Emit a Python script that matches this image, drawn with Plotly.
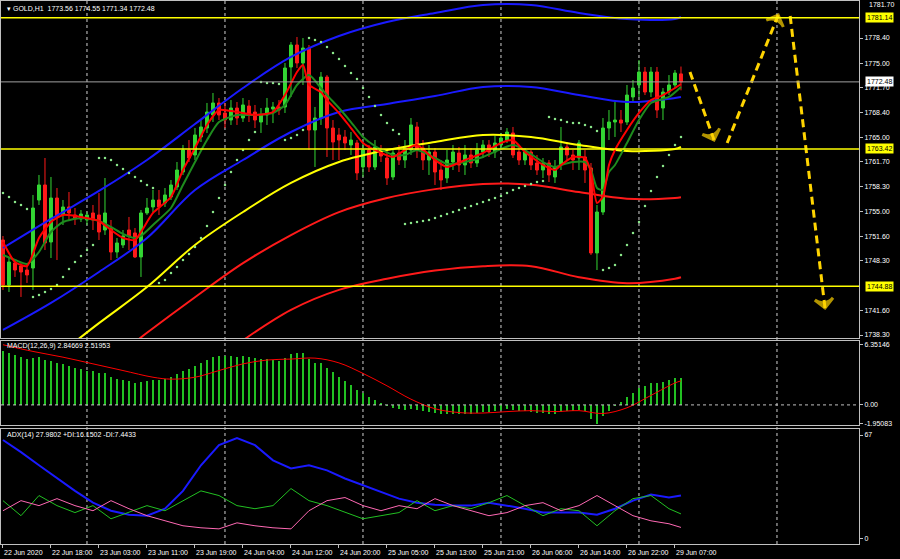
import plotly.graph_objects as go
from plotly.subplots import make_subplots

# ---------------- data ----------------
open_ = [1751.13,1745.06,1748.03,1747.62,1747.08,1747.35,1756.53,1758.56,1750.86,1756.80,
         1754.51,1755.59,1754.51,1753.97,1753.83,1754.78,1754.51,1752.48,1752.75,1749.51,
         1750.46,1752.48,1752.08,1748.84,1754.78,1755.59,1756.53,1756.13,1756.94,1758.29,
         1760.31,1763.28,1762.61,1765.04,1766.25,1768.01,1769.63,1768.28,1767.33,1768.95,
         1767.60,1769.22,1768.41,1767.06,1768.01,1768.82,1769.09,1769.09,1774.49,1777.46,
         1775.03,1777.05,1765.98,1767.60,1773.13,1766.25,1765.31,1765.04,1763.96,1764.23,
         1760.99,1763.28,1760.99,1763.28,1762.20,1759.64,1762.88,1761.93,1763.28,1766.39,
         1763.55,1761.93,1763.01,1760.58,1759.50,1761.66,1762.88,1761.26,1762.61,1761.53,
         1763.01,1763.96,1763.01,1763.96,1764.63,1765.58,1763.01,1761.93,1763.01,1761.53,
         1760.58,1761.53,1759.64,1761.26,1763.69,1762.61,1762.20,1762.34,1760.85,1749.38,
         1754.91,1766.25,1767.06,1767.33,1767.06,1770.44,1772.06,1773.81,1771.11,1773.81,
         1768.95,1771.11,1772.06,1773.56]
high = [1751.67,1748.70,1748.43,1748.16,1747.76,1757.21,1759.91,1762.20,1759.64,1758.15,
        1756.53,1757.61,1755.45,1755.18,1754.91,1755.86,1757.48,1759.50,1753.83,1751.40,
        1752.48,1754.24,1752.75,1755.18,1756.80,1757.88,1757.88,1758.15,1759.23,1761.66,
        1763.96,1764.63,1766.25,1767.33,1769.63,1770.98,1770.30,1769.63,1770.03,1769.76,
        1770.30,1770.03,1769.36,1768.95,1770.30,1769.76,1770.03,1775.03,1777.86,1778.54,
        1778.40,1777.46,1769.09,1773.81,1773.40,1767.33,1766.25,1765.98,1765.71,1764.63,
        1764.23,1763.96,1764.63,1763.96,1763.28,1763.55,1763.96,1764.63,1767.60,1767.06,
        1764.63,1763.96,1763.55,1761.93,1763.28,1763.96,1763.69,1763.96,1763.55,1764.23,
        1764.63,1764.63,1765.17,1765.58,1766.25,1766.39,1763.96,1763.55,1763.28,1762.61,
        1762.20,1761.93,1761.93,1766.39,1764.36,1763.28,1764.63,1763.28,1761.53,1755.86,
        1767.60,1768.68,1769.76,1768.68,1772.06,1772.73,1775.43,1774.49,1774.49,1774.49,
        1771.65,1773.40,1774.08,1774.55]
low = [1744.38,1744.11,1746.14,1743.44,1745.33,1744.38,1755.86,1749.78,1748.70,1748.43,
       1753.16,1753.83,1753.16,1753.56,1753.16,1752.48,1751.13,1751.81,1748.43,1748.70,
       1750.05,1749.78,1748.70,1746.14,1754.51,1754.91,1754.51,1755.59,1756.53,1757.88,
       1759.91,1761.66,1761.93,1764.36,1765.58,1767.06,1767.33,1766.25,1766.66,1766.66,
       1767.06,1767.06,1766.25,1765.58,1766.66,1766.92,1768.01,1768.28,1770.44,1774.35,
       1772.06,1763.28,1760.99,1766.66,1762.34,1761.93,1761.93,1763.28,1762.61,1759.23,
       1759.64,1760.31,1760.58,1761.66,1758.56,1759.23,1761.26,1760.85,1762.61,1762.20,
       1760.58,1759.91,1758.56,1757.88,1758.83,1760.58,1760.31,1759.91,1760.85,1760.99,
       1762.20,1762.34,1762.20,1763.28,1764.23,1762.20,1761.26,1761.26,1760.58,1759.91,
       1759.50,1758.96,1758.83,1760.58,1761.93,1760.58,1760.58,1758.83,1749.11,1747.08,
       1754.51,1764.63,1765.04,1765.71,1766.66,1769.63,1770.44,1770.70,1770.44,1767.60,
       1767.33,1770.70,1771.65,1771.34]
close_ = [1745.06,1748.16,1747.08,1746.81,1746.41,1755.45,1758.56,1750.73,1756.80,1754.24,
          1755.59,1754.78,1753.97,1754.64,1754.51,1753.83,1752.21,1754.78,1749.51,1750.73,
          1751.67,1751.67,1748.84,1754.78,1755.45,1756.53,1755.59,1757.21,1758.56,1760.58,
          1763.28,1762.20,1765.31,1766.39,1768.41,1769.63,1768.01,1767.33,1768.95,1767.60,
          1769.36,1768.01,1767.33,1768.01,1768.95,1769.09,1768.68,1774.35,1777.46,1775.03,
          1777.05,1765.98,1767.60,1773.13,1766.25,1764.36,1764.63,1764.23,1764.63,1760.18,
          1763.28,1760.99,1763.69,1762.47,1759.50,1762.88,1761.93,1763.55,1766.66,1763.28,
          1761.93,1763.01,1760.31,1759.23,1761.93,1763.01,1761.26,1762.61,1761.53,1763.28,
          1763.96,1763.01,1764.23,1764.90,1765.71,1762.61,1761.93,1763.01,1761.26,1760.58,
          1761.53,1759.91,1760.99,1763.69,1762.61,1761.93,1764.23,1760.58,1749.38,1754.91,
          1766.25,1767.06,1767.33,1766.92,1770.70,1771.65,1773.81,1771.11,1773.81,1768.68,
          1771.11,1772.06,1773.67,1772.48]

# fast moving averages (red / dark green), sampled bars
ma_fast_idx = [0,2,4,6,8,10,13,16,18,20,22,23,25,28,30,32,34,36,39,42,45,47,49,50,51,53,54,56,58,60,
               62,65,67,69,72,74,77,80,83,85,87,90,92,93,95,97,98,99,100,101,102,104,106,108,110,112,113]
ma_fast = [1750.86,1748.16,1747.62,1751.40,1753.56,1754.51,1754.24,1753.70,1752.48,1751.40,1751.13,
           1752.21,1754.78,1756.94,1760.58,1763.55,1766.66,1768.68,1768.41,1768.01,1768.41,1770.70,
           1773.81,1774.76,1772.06,1771.11,1770.03,1768.28,1766.25,1764.23,1763.28,1762.34,1763.28,
           1763.96,1761.93,1760.99,1761.93,1762.88,1764.23,1764.63,1763.01,1761.26,1760.58,1761.26,
           1762.34,1762.20,1760.31,1756.13,1757.00,1761.26,1763.28,1765.98,1768.28,1770.03,1770.70,
           1771.65,1772.19]
ma_slow_idx = [0,2,4,6,8,10,13,16,18,20,22,23,25,28,30,32,34,36,39,42,45,47,49,51,53,54,56,58,60,62,
               65,67,69,72,74,77,80,83,85,87,90,92,93,95,97,98,99,100,101,102,104,106,108,111,113]
ma_slow = [1749.11,1748.43,1747.89,1749.51,1752.21,1753.56,1754.10,1753.70,1752.89,1751.94,1751.40,
           1751.67,1753.16,1755.45,1758.56,1761.66,1764.63,1767.06,1768.01,1768.01,1768.28,1769.36,
           1772.06,1773.40,1771.65,1770.70,1768.95,1767.06,1765.04,1763.82,1762.61,1762.61,1763.28,
           1762.20,1761.39,1761.66,1762.34,1763.42,1763.96,1763.28,1761.66,1760.99,1761.26,1761.66,
           1761.66,1760.58,1758.15,1757.88,1760.31,1761.26,1764.23,1767.33,1769.63,1770.44,1771.79]

# envelope bands, sampled every 8 bars
band_idx = [0,8,16,24,32,40,48,56,64,72,80,88,96,104,112,113]
band_upper2 = [1750.05,1753.97,1757.75,1761.93,1766.79,1771.65,1775.84,1778.67,1780.56,1781.78,
               1782.86,1782.86,1781.78,1780.97,1780.97,1781.24]
band_upper1 = [1738.98,1742.63,1746.81,1751.40,1757.88,1761.93,1765.71,1768.41,1769.49,1770.57,
               1771.79,1771.79,1770.70,1769.76,1770.30,1770.44]
band_mid = [1730.2,1734.9,1739.9,1744.78,1750.46,1754.91,1758.83,1761.66,1763.28,1764.36,
            1765.31,1765.04,1763.96,1763.15,1763.42,1763.69]
band_lower1 = [1726.8,1729.5,1733.6,1738.6,1743.4,1748.0,1751.8,1754.9,1756.8,1758.0,
               1758.7,1758.6,1757.6,1756.7,1756.8,1756.9]
band_lower2 = [1718.7,1721.4,1724.1,1728.2,1732.9,1737.6,1741.7,1744.4,1745.9,1747.0,
               1747.6,1747.6,1746.1,1745.3,1745.9,1746.1]

# parabolic SAR, every bar
sar = [1757.48,1756.94,1756.26,1755.86,1755.32,1743.44,1743.71,1744.11,1744.52,1745.06,
       1746.14,1747.22,1748.16,1748.97,1749.78,1750.46,1762.20,1762.20,1761.93,1761.26,
       1760.72,1760.18,1759.64,1759.10,1758.56,1758.15,1745.33,1745.73,1746.68,1747.49,
       1748.43,1749.24,1750.19,1751.40,1753.02,1754.91,1756.80,1758.56,1760.31,1761.93,
       1763.28,1764.63,1765.71,1772.46,1772.33,1772.33,1772.19,1764.63,1764.90,1765.31,
       1765.98,1778.40,1778.13,1777.86,1777.19,1776.38,1775.57,1774.62,1773.67,1772.87,
       1771.65,1770.44,1769.22,1768.01,1766.92,1765.98,1765.44,1753.29,1753.43,1753.56,
       1753.70,1753.83,1754.10,1754.37,1754.64,1754.91,1755.18,1755.45,1755.72,1755.99,
       1756.26,1756.53,1756.80,1757.07,1757.48,1757.88,1758.15,1758.42,1758.69,1758.96,
       1759.10,1767.74,1767.47,1767.33,1767.06,1766.92,1766.92,1766.66,1766.39,1765.85,
       1747.08,1747.35,1747.76,1749.11,1750.46,1752.08,1753.56,1755.72,1757.75,1759.64,
       1761.12,1762.61,1763.96,1765.04]

# MACD(12,26,9)
macd_hist = [5.6,5.4,5.2,5.0,4.8,4.9,5.0,4.7,4.6,4.4,
             4.3,4.1,3.9,3.8,3.6,3.5,3.3,3.3,2.9,2.7,
             2.6,2.5,2.3,2.4,2.5,2.6,2.6,2.7,2.9,3.2,
             3.6,3.8,4.1,4.4,4.7,5.0,5.1,5.1,5.1,5.0,
             5.1,5.0,4.9,4.8,4.8,4.7,4.6,4.9,5.3,5.4,
             5.4,4.8,4.4,4.4,3.9,3.4,2.9,2.5,2.1,1.6,
             1.2,0.8,0.5,0.2,-0.1,-0.3,-0.4,-0.5,-0.4,-0.5,
             -0.6,-0.7,-0.8,-0.9,-0.9,-0.9,-0.9,-0.9,-0.9,-0.8,
             -0.7,-0.7,-0.6,-0.5,-0.4,-0.5,-0.6,-0.6,-0.7,-0.8,
             -0.8,-0.9,-0.9,-0.7,-0.6,-0.6,-0.5,-0.6,-1.5,-1.95,
             -1.2,-0.6,-0.1,0.3,0.8,1.3,1.8,2.0,2.3,2.3,
             2.4,2.6,2.8,2.85]
macd_sig_idx = [0,5,10,15,20,25,28,32,36,40,44,48,52,56,60,64,68,72,76,80,84,88,92,96,100,104,108,112,113]
macd_sig = [6.3,5.6,5.0,4.3,3.6,2.9,2.7,2.9,3.6,4.3,4.7,4.8,4.9,4.4,3.3,2.0,0.6,-0.4,-0.8,-0.85,
            -0.7,-0.6,-0.7,-0.6,-0.9,-0.3,1.0,2.3,2.52]

# ADX(14)
adx_idx = [0,3,6,9,12,15,18,21,24,27,30,33,36,39,42,45,48,51,54,57,60,63,66,69,72,75,78,81,84,87,
           90,93,96,99,102,105,108,111,113]
adx = [63.8,56,47.5,39,31,23.4,18.2,15.6,15,19.5,31,47.5,60.5,65,60.5,50.7,45.5,47.5,44.2,39,
       34.5,30,26,23.4,22,21.5,21.5,23.4,21.5,19.5,17,17,17,15.6,19.5,24.7,28.6,26.7,27.98]
plus_di = [24.7,15,28,21.5,17,21.5,13,17,21.5,18.2,24.7,31,28,21.5,19.5,21.5,32.5,24.7,21.5,17,
           13,15,17,24.7,18.2,21.5,19.5,23.4,28,21.5,15,19.5,18.2,8.5,18.2,26,28,19.5,16.15]
minus_di = [18.2,24.7,21.5,26,21.5,18.2,24.7,19.5,15,11.7,8.5,7.2,6.5,10.4,8.5,7.2,6.5,18.2,24.7,26.7,
            21.5,18.2,21.5,19.5,26,21.5,18.2,15,17,21.5,23.4,18.2,21.5,28,21.5,15,11.7,9.8,7.44]

# levels and drawings
level_prices = [1781.14, 1763.42, 1744.88]
bid_price = 1772.48
top_price_label = "1781.70"
price_ticks = [1778.40,1775.00,1771.70,1768.40,1765.00,1761.70,1758.30,1755.00,1751.60,1748.30,1741.60,1738.30]
time_tick_idx = [0,8,16,24,32,40,48,56,64,72,80,88,96,104,112]
time_tick_text = ["22 Jun 2020","22 Jun 18:00","23 Jun 03:00","23 Jun 11:00","23 Jun 19:00",
                  "24 Jun 04:00","24 Jun 12:00","24 Jun 20:00","25 Jun 05:00","25 Jun 13:00",
                  "25 Jun 21:00","26 Jun 06:00","26 Jun 14:00","26 Jun 22:00","29 Jun 07:00"]
day_sep_idx = [14, 37, 60, 83, 106, 129]
arrow_paths = [([114.5, 118.5], [1773.81, 1764.63]),
               ([120.7, 129.2], [1764.23, 1781.50]),
               ([131.2, 137.0], [1781.37, 1741.95])]

# ---------------- figure ----------------
bars = list(range(len(close_)))
FONT = "Liberation Sans"
FS = 7
WHITE = "#ffffff"
FRAME = "#c0c0c0"

fig = make_subplots(rows=3, cols=1, shared_xaxes=True, vertical_spacing=0)

fig.add_trace(go.Candlestick(
    x=bars, open=open_, high=high, low=low, close=close_,
    increasing=dict(line=dict(color="#33d633", width=1), fillcolor="#33d633"),
    decreasing=dict(line=dict(color="#ff1a1a", width=1), fillcolor="#ff1a1a"),
    whiskerwidth=0, hoverinfo="skip"), row=1, col=1)

band_style = [(band_upper2, "#1a1aff"), (band_upper1, "#1a1aff"), (band_mid, "#ffff00"),
              (band_lower1, "#ff1a1a"), (band_lower2, "#ff1a1a")]
for vals, col in band_style:
    fig.add_trace(go.Scatter(x=band_idx, y=vals, mode="lines", line=dict(color=col, width=2, shape="spline"),
                             hoverinfo="skip"), row=1, col=1)

fig.add_trace(go.Scatter(x=ma_slow_idx, y=ma_slow, mode="lines",
                         line=dict(color="#1e8c1e", width=2, shape="spline", smoothing=0.6), hoverinfo="skip"), row=1, col=1)
fig.add_trace(go.Scatter(x=ma_fast_idx, y=ma_fast, mode="lines",
                         line=dict(color="#ff0000", width=2, shape="spline", smoothing=0.6), hoverinfo="skip"), row=1, col=1)
fig.add_trace(go.Scatter(x=bars, y=sar, mode="markers",
                         marker=dict(color="#8ae68a", size=2.5), hoverinfo="skip"), row=1, col=1)

for xs, ys in arrow_paths:
    fig.add_trace(go.Scatter(
        x=xs, y=ys, mode="lines+markers",
        line=dict(color="#ffd400", width=3, dash="8px,5px"),
        marker=dict(symbol=["circle", "arrow-wide-open"], size=[0, 13], angleref="previous",
                    color="#ffd400", line=dict(color="#ffd400", width=3)),
        hoverinfo="skip"), row=1, col=1)

fig.add_trace(go.Bar(x=bars, y=macd_hist, marker=dict(color="#22c022", line=dict(width=0)), width=0.22,
                     hoverinfo="skip"), row=2, col=1)
fig.add_trace(go.Scatter(x=macd_sig_idx, y=macd_sig, mode="lines",
                         line=dict(color="#ff0000", width=1, shape="spline"), hoverinfo="skip"), row=2, col=1)

fig.add_trace(go.Scatter(x=adx_idx, y=adx, mode="lines", line=dict(color="#1a1aff", width=2), hoverinfo="skip"), row=3, col=1)
fig.add_trace(go.Scatter(x=adx_idx, y=plus_di, mode="lines", line=dict(color="#22c022", width=1), hoverinfo="skip"), row=3, col=1)
fig.add_trace(go.Scatter(x=adx_idx, y=minus_di, mode="lines", line=dict(color="#ff69b4", width=1), hoverinfo="skip"), row=3, col=1)

xr = [-0.33, 142.67]
common_x = dict(range=xr, showgrid=False, zeroline=False, showline=True, mirror=True,
                linecolor=FRAME, linewidth=1, rangeslider=dict(visible=False))
fig.update_layout(
    xaxis=dict(**common_x, showticklabels=False, ticks=""),
    xaxis2=dict(**common_x, showticklabels=False, ticks=""),
    xaxis3=dict(**common_x, showticklabels=False, ticks="outside", ticklen=3, tickcolor=FRAME,
                tickvals=time_tick_idx),
)
common_y = dict(side="right", showgrid=False, zeroline=False, showline=True, mirror=True,
                linecolor=FRAME, linewidth=1, ticks="outside", ticklen=3, tickcolor=FRAME,
                tickfont=dict(family=FONT, size=FS, color=WHITE))
fig.update_layout(
    yaxis=dict(**common_y, domain=[0.3794, 1.0], range=[1737.9, 1783.4],
               tickvals=price_ticks, ticktext=["%.2f" % v for v in price_ticks]),
    yaxis2=dict(**common_y, domain=[0.2192, 0.3738], range=[-2.1, 6.69],
                tickvals=[6.35146, 0, -1.95083], ticktext=["6.35146", "0.00", "-1.95083"]),
    yaxis3=dict(**common_y, domain=[0.0, 0.2118], range=[-3.25, 70.9],
                tickvals=[67, 0], ticktext=["67", "0"]),
)

shapes = []
for d in day_sep_idx:
    shapes.append(dict(type="line", xref="x", yref="paper", x0=d, x1=d, y0=0, y1=1,
                       line=dict(color="#d0d0d0", width=1, dash="3px,3px"), layer="below"))
for lv in level_prices:
    shapes.append(dict(type="line", xref="paper", yref="y", x0=0, x1=1, y0=lv, y1=lv,
                       line=dict(color="#ffff00", width=1.5)))
shapes.append(dict(type="line", xref="paper", yref="y", x0=0, x1=1, y0=bid_price, y1=bid_price,
                   line=dict(color="#a0a0a0", width=1)))
shapes.append(dict(type="line", xref="paper", yref="y2", x0=0, x1=1, y0=0, y1=0,
                   line=dict(color="#c0c0c0", width=1, dash="3px,3px")))

annotations = []
def paper_y(px):
    return 1 - (px - 1) / 543.0

annotations.append(dict(xref="paper", yref="paper", x=0, y=paper_y(9), xanchor="left", yanchor="middle",
                        xshift=4, showarrow=False, text="\u25BE GOLD,H1  1773.56 1774.55 1771.34 1772.48",
                        font=dict(family=FONT, size=FS, color=WHITE)))
annotations.append(dict(xref="paper", yref="paper", x=0, y=paper_y(346), xanchor="left", yanchor="middle",
                        xshift=4, showarrow=False, text="MACD(12,26,9) 2.84669 2.51953",
                        font=dict(family=FONT, size=FS, color=WHITE)))
annotations.append(dict(xref="paper", yref="paper", x=0, y=paper_y(435), xanchor="left", yanchor="middle",
                        xshift=4, showarrow=False, text="ADX(14) 27.9802 +DI:16.1502 -DI:7.4433",
                        font=dict(family=FONT, size=FS, color=WHITE)))
annotations.append(dict(xref="paper", yref="paper", x=1, y=paper_y(5), xanchor="left", yanchor="middle",
                        xshift=8, showarrow=False, text=top_price_label,
                        font=dict(family=FONT, size=FS, color=WHITE)))
for lv in level_prices:
    annotations.append(dict(xref="paper", yref="y", x=1, y=lv, xanchor="left", yanchor="middle", xshift=6,
                            showarrow=False, text="%.2f" % lv, bgcolor="#ffff00", borderpad=1,
                            font=dict(family=FONT, size=FS, color="#000000")))
annotations.append(dict(xref="paper", yref="y", x=1, y=bid_price, xanchor="left", yanchor="middle", xshift=6,
                        showarrow=False, text="%.2f" % bid_price, bgcolor="#ffffff", borderpad=1,
                        font=dict(family=FONT, size=FS, color="#000000")))
for ti, tt in zip(time_tick_idx, time_tick_text):
    annotations.append(dict(xref="x3", yref="paper", x=ti, y=0, xanchor="left", yanchor="top",
                            yshift=-3, xshift=-1, showarrow=False, text=tt,
                            font=dict(family=FONT, size=FS, color=WHITE)))

fig.update_layout(
    width=900, height=559, margin=dict(l=1, r=41, t=1, b=15),
    paper_bgcolor="#000000", plot_bgcolor="#000000",
    showlegend=False, hovermode=False, bargap=0,
    shapes=shapes, annotations=annotations,
)

fig.write_html("out.html", config={"displayModeBar": False, "staticPlot": True},
               post_script="document.body.style.margin='0';document.body.style.padding='0';document.body.style.background='#000';")
